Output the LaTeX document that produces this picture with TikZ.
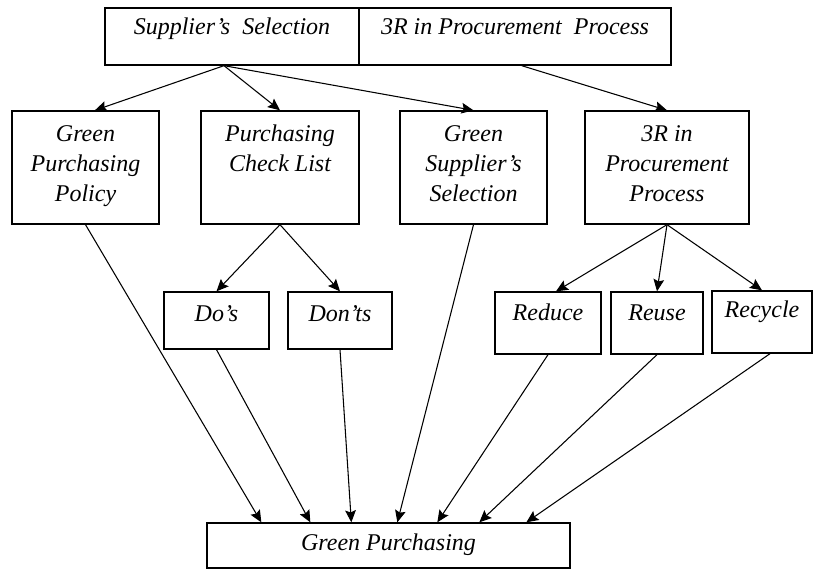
\documentclass[tikz,border=0pt]{standalone}
\usepackage{fontspec}
\setmainfont{Liberation Serif}
\usetikzlibrary{arrows.meta}

\begin{document}
\begin{tikzpicture}[
    x=0.75pt, y=-0.75pt,
    every node/.style={font=\fontsize{18}{22.5}\selectfont\itshape},
    block/.style n args={3}{draw, line width=1pt, inner sep=0pt,
        execute at begin node={\begin{minipage}[c][#2][t]{#1}\centering\rule{0pt}{#3}},
        execute at end node={\end{minipage}}},
    arrow/.style={-{Stealth[length=9pt, width=8pt, inset=1.5pt]}, line width=0.8pt}
]
    \useasboundingbox (0,0) rectangle (816,570);

    % Nodes
    \node[block={190.5pt}{42.75pt}{20.25pt}] (sel) at (232,36.5) {Supplier’s\ \ Selection};
    \node[block={234pt}{42.75pt}{20.25pt}] (proc) at (515,36.5) {3R in Procurement\ \ Process};

    \node[block={110.25pt}{84.75pt}{23.25pt}] (gpp) at (85.5,167.5) {Green\\Purchasing\\Policy};
    \node[block={118.5pt}{84.75pt}{23.25pt}] (pcl) at (280,167.5) {Purchasing\\Check List};
    \node[block={110.25pt}{84.75pt}{23.25pt}] (gss) at (473.5,167.5) {Green\\Supplier’s\\Selection};
    \node[block={123pt}{84.75pt}{23.25pt}] (rip) at (667,167.5) {3R in\\Procurement\\Process};

    \node[block={78.75pt}{42.75pt}{21.75pt}] (dos) at (216.5,320.5) {Do’s};
    \node[block={78pt}{42.75pt}{21.75pt}] (dont) at (340,320.5) {Don’ts};
    \node[block={79.5pt}{46.5pt}{21pt}] (red) at (548,323) {Reduce};
    \node[block={69pt}{46.5pt}{21pt}] (reu) at (657,323) {Reuse};
    \node[block={75pt}{46.5pt}{19.5pt}] (rec) at (762,322) {Recycle};

    \node[block={272.25pt}{33.75pt}{20.25pt}] (gp) at (388.5,545.5) {Green Purchasing};

    % Arrows
    \draw[arrow] ([xshift=-6pt]sel.south) -- ([xshift=7pt]gpp.north);
    \draw[arrow] ([xshift=-6pt]sel.south) -- (pcl.north);
    \draw[arrow] ([xshift=-6pt]sel.south) -- (gss.north);
    \draw[arrow] ([xshift=5pt]proc.south) -- (rip.north);

    \draw[arrow] (pcl.south) -- (dos.north);
    \draw[arrow] (pcl.south) -- (dont.north);
    \draw[arrow] (rip.south) -- ([xshift=6pt]red.north);
    \draw[arrow] (rip.south) -- (reu.north);
    \draw[arrow] (rip.south) -- (rec.north);

    \draw[arrow] (gpp.south) -- ([xshift=41.25pt]gp.north west);
    \draw[arrow] (dos.south) -- ([xshift=78pt]gp.north west);
    \draw[arrow] (dont.south) -- ([xshift=108.75pt]gp.north west);
    \draw[arrow] (gss.south) -- ([xshift=143.25pt]gp.north west);
    \draw[arrow] (red.south) -- ([xshift=173.25pt]gp.north west);
    \draw[arrow] (reu.south) -- ([xshift=204.75pt]gp.north west);
    \draw[arrow] ([xshift=6pt]rec.south) -- ([xshift=240pt]gp.north west);
\end{tikzpicture}
\end{document}
